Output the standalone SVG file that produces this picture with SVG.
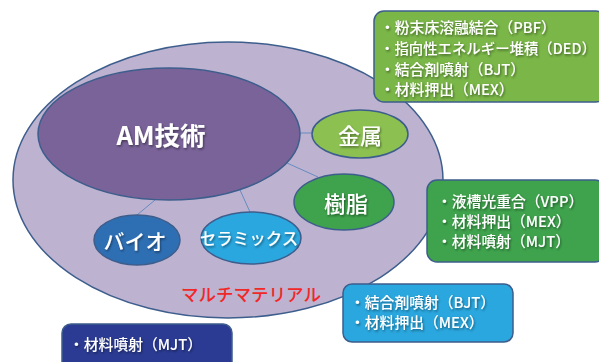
<svg xmlns="http://www.w3.org/2000/svg" width="599" height="362" viewBox="0 0 599 362">
<defs>
<filter id="sh" x="-20%" y="-20%" width="140%" height="140%">
<feDropShadow dx="1" dy="1.5" stdDeviation="1" flood-color="#000" flood-opacity="0.45"/>
</filter>
</defs>
<style>
text{font-family:"Noto Sans CJK JP","Noto Sans",sans-serif}
.ell{stroke:#3d5e8c;stroke-width:1.5}
.box{stroke:#3d5e8c;stroke-width:1.5}
.lbl{fill:#fff;text-anchor:middle;dominant-baseline:central;filter:url(#sh);font-weight:500}
.bt{fill:#fff;font-size:14.8px;font-weight:500;filter:url(#sh)}
.conn line{stroke:#4f81bd;stroke-width:0.8}
</style>
<rect width="599" height="362" fill="#fff"/>
<g id="multimaterial">
<ellipse class="ell" cx="228" cy="180" rx="215" ry="138" fill="#bdb2d0"/>
<text x="251" y="293" font-size="17.5" font-weight="500" fill="#f02828" text-anchor="middle" dominant-baseline="central">マルチマテリアル</text>
</g>
<g class="conn" id="connectors">
<line x1="299" y1="133" x2="312" y2="133"/>
<line x1="287" y1="163" x2="318" y2="177"/>
<line x1="155" y1="200" x2="137" y2="215"/>
<line x1="240" y1="190" x2="250" y2="212"/>
</g>
<g id="am">
<ellipse class="ell" cx="169" cy="134" rx="131" ry="66" fill="#7a6399"/>
<text class="lbl" x="161" y="133" font-size="25.5" style="font-weight:bold">AM技術</text>
</g>
<g id="metal">
<ellipse class="ell" cx="360" cy="134" rx="48" ry="24" fill="#8cc152"/>
<text class="lbl" x="360" y="134" font-size="22">金属</text>
</g>
<g id="resin">
<ellipse class="ell" cx="344" cy="202" rx="50" ry="28" fill="#3ea34c"/>
<text class="lbl" x="346" y="202" font-size="22">樹脂</text>
</g>
<g id="bio">
<ellipse class="ell" cx="137" cy="240" rx="43" ry="25" fill="#2e6fb4"/>
<text class="lbl" x="135" y="240" font-size="21">バイオ</text>
</g>
<g id="ceramics">
<ellipse class="ell" cx="251" cy="238" rx="50" ry="26" fill="#2aa7df"/>
<text class="lbl" x="249" y="238" font-size="16.5">セラミックス</text>
</g>
<g id="box-metal">
<rect class="box" x="374" y="11" width="232" height="91" rx="10" fill="#7ab648"/>
<text class="bt" x="380" y="33">・粉末床溶融結合（PBF）</text>
<text class="bt" x="380" y="54" style="font-size:14.4px">・指向性エネルギー堆積（DED）</text>
<text class="bt" x="380" y="75">・結合剤噴射（BJT）</text>
<text class="bt" x="380" y="95">・材料押出（MEX）</text>
</g>
<g id="box-resin">
<rect class="box" x="427" y="180" width="178" height="82" rx="10" fill="#3fa34d"/>
<text class="bt" x="437" y="207">・液槽光重合（VPP）</text>
<text class="bt" x="437" y="227">・材料押出（MEX）</text>
<text class="bt" x="437" y="247">・材料噴射（MJT）</text>
</g>
<g id="box-ceramics">
<rect class="box" x="343" y="284" width="170" height="58" rx="9" fill="#2aa7df"/>
<text class="bt" x="350" y="308">・結合剤噴射（BJT）</text>
<text class="bt" x="350" y="328">・材料押出（MEX）</text>
</g>
<g id="box-bio">
<rect class="box" x="62" y="324" width="170" height="50" rx="9" fill="#2b3b93"/>
<text class="bt" x="69" y="350">・材料噴射（MJT）</text>
</g>
</svg>
